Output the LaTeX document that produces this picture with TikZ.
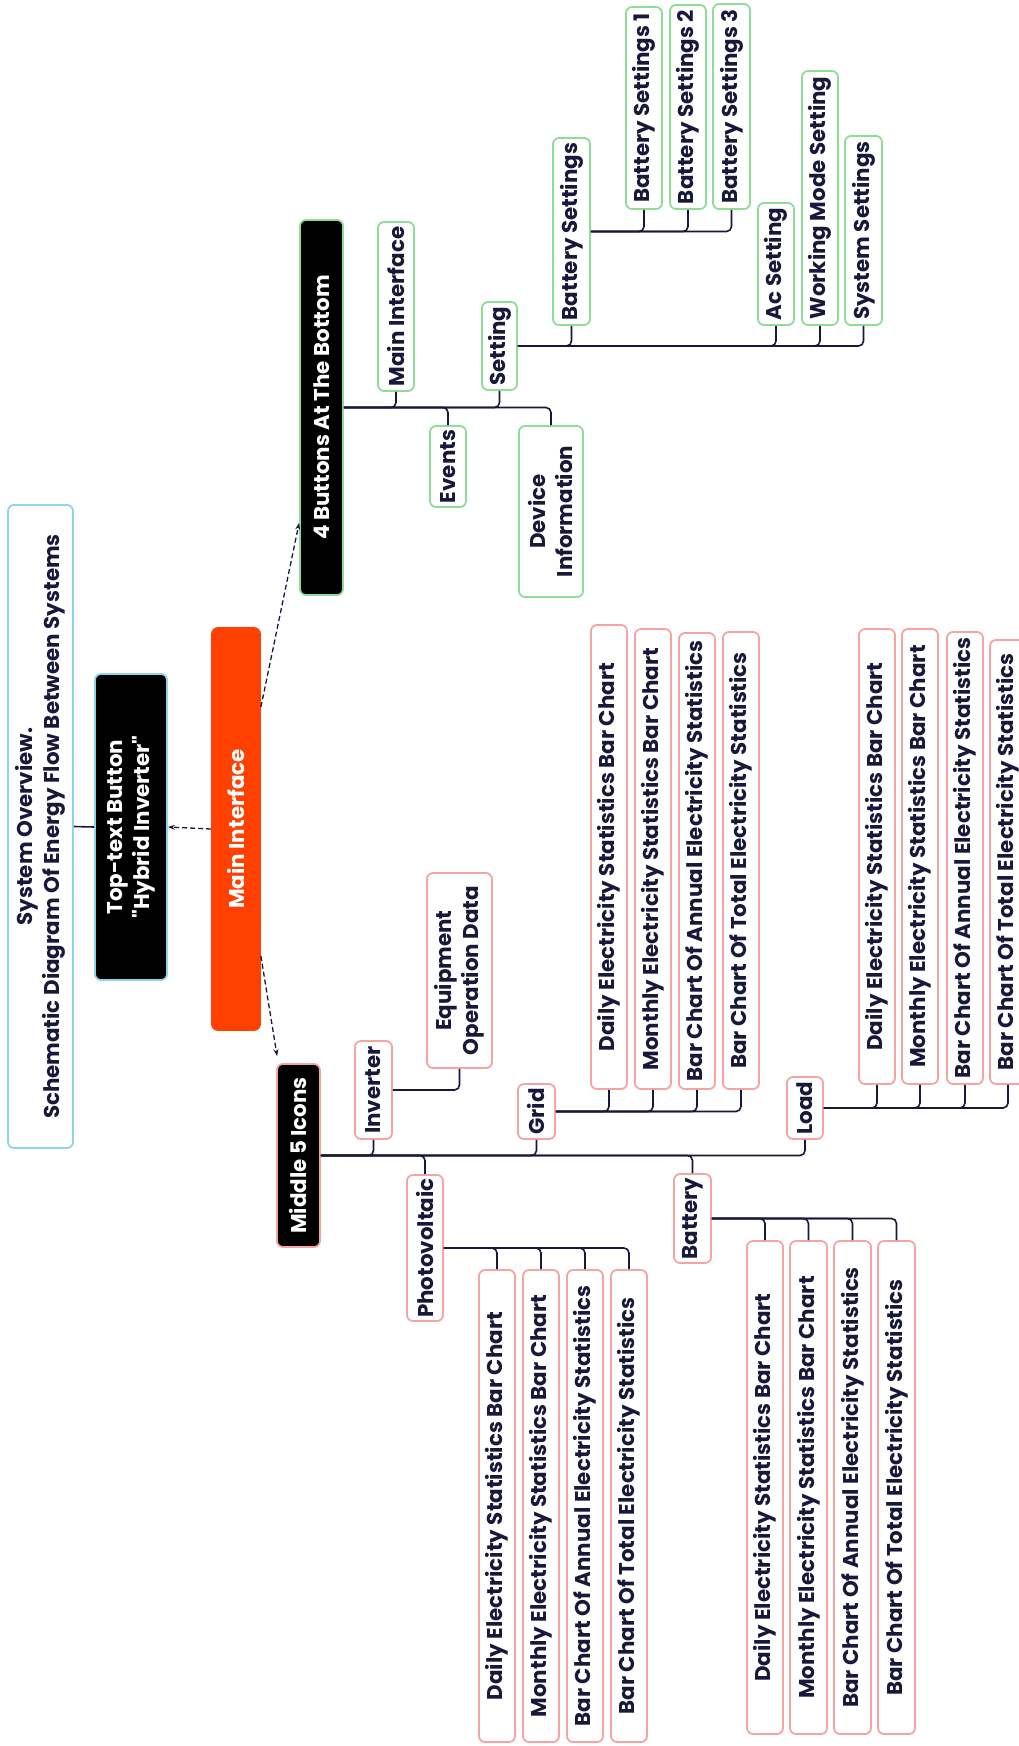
\documentclass[tikz,border=0pt]{standalone}
\usepackage{fontspec}
\newfontfamily\pop{Poppins}
\usetikzlibrary{arrows.meta,calc}
\definecolor{ink}{HTML}{17183A}
\definecolor{gbd}{HTML}{8EDC96}
\definecolor{pbd}{HTML}{F5A3A3}
\definecolor{bbd}{HTML}{8FD3EF}
\definecolor{org}{HTML}{FF4000}
\begin{document}
\begin{tikzpicture}[x=1pt,y=1pt,
  base/.style={rotate=90, rounded corners=6pt, line width=1.8pt, inner sep=0pt, align=center,
    font=\pop\fontsize{21.4}{27}\selectfont\bfseries, text=ink, fill=white},
  sz/.style 2 args={minimum width=#1pt, minimum height=#2pt},
  gbox/.style={base, draw=gbd},
  pbox/.style={base, draw=pbd},
  bbox/.style={base, draw=bbd},
  darkg/.style={base, draw=gbd, fill=black, text=white},
  darkp/.style={base, draw=pbd, fill=black, text=white},
  darkb/.style={base, draw=bbd, fill=black, text=white},
  orgbox/.style={base, draw=org, fill=org, text=white},
  conn/.style={draw=ink, line width=1.6pt, rounded corners=5pt},
  dasharrow/.style={draw=ink, line width=1.3pt, dash pattern=on 5pt off 3pt, -{Stealth[length=7pt,width=5pt]}}
]
\useasboundingbox (0,0) rectangle (1018,-1746);

% top levels
\node[bbox, sz={643}{65}] (sys) at (40.5,-826.5) {System Overview.\\Schematic Diagram Of Energy Flow Between Systems};
\node[darkb, sz={306}{72}] (top) at (131,-827) {Top-text Button\\"Hybrid Inverter"};
\node[orgbox, sz={402}{48}] (main) at (236,-829) {Main Interface};
\node[darkg, sz={375}{43}] (four) at (321.5,-407.5) {4 Buttons At The Bottom};
\node[darkp, sz={183}{43}] (mid) at (298.5,-1155.5) {Middle 5 Icons};

% 4 buttons branch
\node[gbox, sz={169}{36}] (mi) at (396,-306.5) {Main Interface};
\node[gbox, sz={81}{36}] (events) at (448,-466.5) {Events};
\node[gbox, sz={88}{35}] (setting) at (499.5,-346) {Setting};
\node[gbox, sz={171}{64}] (devinfo) at (551,-511.5) {Device\\Information};
\node[gbox, sz={187}{37}] (bs) at (571.5,-231.5) {Battery Settings};
\node[gbox, sz={202}{36}] (bs1) at (644,-108) {Battery Settings 1};
\node[gbox, sz={204}{36}] (bs2) at (688,-107) {Battery Settings 2};
\node[gbox, sz={205}{37}] (bs3) at (731.5,-106.5) {Battery Settings 3};
\node[gbox, sz={122}{36}] (ac) at (776,-264) {Ac Setting};
\node[gbox, sz={254}{36}] (wm) at (820,-198) {Working Mode Setting};
\node[gbox, sz={189}{37}] (ss) at (863.5,-230.5) {System Settings};

% middle 5 icons branch
\node[pbox, sz={98}{37}] (inv) at (373.5,-1090) {Inverter};
\node[pbox, sz={195}{65}] (eqp) at (459.5,-970.5) {Equipment\\Operation Data};
\node[pbox, sz={146}{36}] (pv) at (425,-1248) {Photovoltaic};
\node[pbox, sz={55}{37}] (grid) at (536.5,-1111.5) {Grid};
\node[pbox, sz={89}{37}] (bat) at (692.5,-1218.5) {Battery};
\node[pbox, sz={62}{36}] (load) at (805,-1108) {Load};

% grid children
\node[pbox, sz={464}{36}] (g1) at (609,-857) {Daily Electricity Statistics Bar Chart};
\node[pbox, sz={460}{36}] (g2) at (653,-859) {Monthly Electricity Statistics Bar Chart};
\node[pbox, sz={456}{36}] (g3) at (697,-861) {Bar Chart Of Annual Electricity Statistics};
\node[pbox, sz={457}{36}] (g4) at (741,-860.5) {Bar Chart Of Total Electricity Statistics};
% load children
\node[pbox, sz={455}{36}] (l1) at (877,-856.5) {Daily Electricity Statistics Bar Chart};
\node[pbox, sz={455}{36}] (l2) at (920,-856.5) {Monthly Electricity Statistics Bar Chart};
\node[pbox, sz={452}{36}] (l3) at (965,-858) {Bar Chart Of Annual Electricity Statistics};
\node[pbox, sz={444}{36}] (l4) at (1008,-862) {Bar Chart Of Total Electricity Statistics};
% pv children
\node[pbox, sz={472}{36}] (p1) at (497,-1506) {Daily Electricity Statistics Bar Chart};
\node[pbox, sz={472}{36}] (p2) at (541,-1506) {Monthly Electricity Statistics Bar Chart};
\node[pbox, sz={472}{36}] (p3) at (585,-1506) {Bar Chart Of Annual Electricity Statistics};
\node[pbox, sz={472}{36}] (p4) at (629,-1506) {Bar Chart Of Total Electricity Statistics};
% battery children
\node[pbox, sz={493}{36}] (b1) at (765,-1487.5) {Daily Electricity Statistics Bar Chart};
\node[pbox, sz={493}{37}] (b2) at (808.5,-1487.5) {Monthly Electricity Statistics Bar Chart};
\node[pbox, sz={493}{37}] (b3) at (852.5,-1487.5) {Bar Chart Of Annual Electricity Statistics};
\node[pbox, sz={493}{37}] (b4) at (896.5,-1487.5) {Bar Chart Of Total Electricity Statistics};

% connectors
\draw[conn] (sys.south) -- (top.north);
\draw[dasharrow] (main.north) -- (top.south);
\draw[dasharrow] ($(main.south east)+(0,-80)$) -- ($(four.north west)+(0,73)$);
\draw[dasharrow] ($(main.south west)+(0,75)$) -- ($(mid.north east)+(1,7)$);

\foreach \c in {mi,setting} \draw[conn] (four.south) -| (\c.west);
\foreach \c in {events,devinfo} \draw[conn] (four.south) -| (\c.east);
\foreach \c in {bs,ac,wm,ss} \draw[conn] (setting.south) -| (\c.west);
\foreach \c in {bs1,bs2,bs3} \draw[conn] (bs.south) -| (\c.west);

\foreach \c in {inv,grid,load} \draw[conn] (mid.south) -| (\c.west);
\foreach \c in {pv,bat} \draw[conn] (mid.south) -| (\c.east);
\draw[conn] (inv.south) -| (eqp.west);
\foreach \c in {g1,g2,g3,g4} \draw[conn] (grid.south) -| (\c.west);
\foreach \c in {l1,l2,l3,l4} \draw[conn] (load.south) -| (\c.west);
\foreach \c in {p1,p2,p3,p4} \draw[conn] (pv.south) -| (\c.east);
\foreach \c in {b1,b2,b3,b4} \draw[conn] (bat.south) -| (\c.east);
\end{tikzpicture}
\end{document}
